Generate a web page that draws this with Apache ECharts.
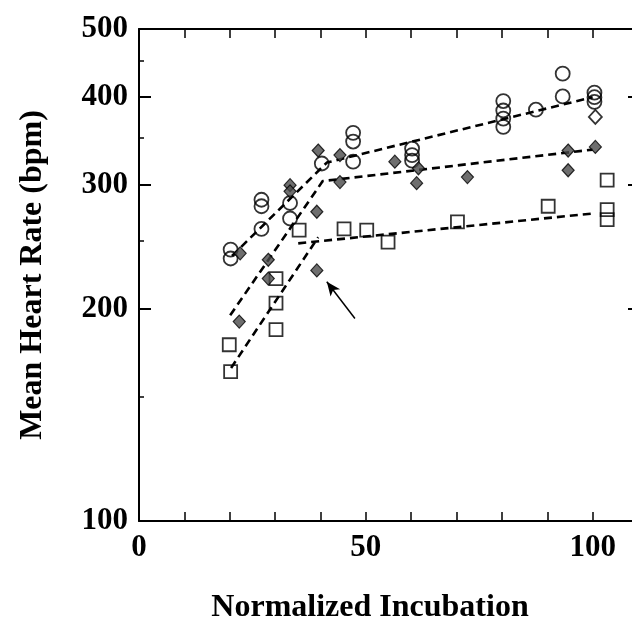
<!DOCTYPE html>
<html><head><meta charset="utf-8">
<script src="https://cdn.jsdelivr.net/npm/echarts@6/dist/echarts.min.js"></script>
<style>html,body{margin:0;padding:0;background:#fff}#c{width:632px;height:624px}</style>
</head><body><div id="c"></div>
<script>
// ---- data ----
const circleX = [20.2, 20.2, 27.0, 27.0, 27.0, 33.3, 33.3, 40.3, 47.2, 47.2, 47.2, 60.2, 60.2, 60.2, 80.3, 80.3, 80.3, 80.3, 87.5, 93.4, 93.4, 100.4, 100.4, 100.4];
const circleY = [243, 236, 286, 280, 260, 283, 269, 322, 356, 346, 324, 338, 331, 325, 395, 383, 373, 363, 384, 432, 401, 406, 400, 394];

const diamondX = [22.3, 22.1, 28.5, 28.5, 33.3, 33.3, 39.2, 39.2, 39.5, 44.3, 44.3, 56.4, 61.2, 61.6, 72.4, 94.6, 94.6, 100.6];
const diamondY = [240, 192, 235, 221, 300, 294, 275, 227, 336, 331, 303, 324, 302, 317, 308, 336, 315, 340];
const openDiamondX = [100.6];
const openDiamondY = [375];

const squareX = [19.9, 20.2, 30.2, 30.2, 30.2, 35.3, 45.2, 50.2, 54.9, 70.2, 90.2, 103.2, 103.2, 103.2];
const squareY = [178, 163, 187, 204, 221, 259, 260, 259, 249, 266, 280, 305, 277, 268];

const circleFitX = [20.5, 41.4, 100];
const circleFitY = [238, 323, 400];
const diamondFitX = [20.1, 40.5, 100];
const diamondFitY = [196, 304, 337];
const squareSteepX = [20.3, 39.5];
const squareSteepY = [165, 253];
const squareFlatX = [35.1, 100.1];
const squareFlatY = [248, 273.5];

const arrowFrom = [47.6, 194];
const arrowTo = [41.4, 218.7];

const xLabelValues = [0, 50, 100];
const yLabelValues = [100, 200, 300, 400, 500];
const yMajorTicks = [200, 300, 400];
const yMinorTicks = [150, 250, 350, 450];

// ---- chart ----
const pairs = (xs, ys) => xs.map((x, i) => [x, ys[i]]);
const FONT = '"Liberation Serif","Times New Roman",serif';
const txt = { fontFamily: FONT, fontWeight: 'bold', color: '#000' };
const axisLine = { show: true, lineStyle: { color: '#000', width: 2 } };

const dashed = { color: '#000', width: 2.6, type: [8, 5] };
function fitLine(xs, ys) {
  return {
    type: 'line', data: pairs(xs, ys), symbol: 'none', silent: true,
    lineStyle: dashed, z: 2
  };
}

const chart = echarts.init(document.getElementById('c'), null, { renderer: 'canvas' });
chart.setOption({
  animation: false,
  backgroundColor: '#fff',
  grid: { left: 139, top: 29, width: 499, height: 492, containLabel: false, outerBoundsMode: 'none' },
  xAxis: [
    {
      type: 'value', min: 0, max: 110, interval: 10, position: 'bottom',
      axisLine: axisLine,
      axisTick: { show: true, inside: true, length: 9, lineStyle: { color: '#000', width: 1.5 } },
      axisLabel: { customValues: xLabelValues, margin: 11, fontSize: 31, ...txt },
      splitLine: { show: false },
      name: 'Normalized Incubation', nameLocation: 'middle', nameGap: 71,
      nameTextStyle: { fontSize: 32, ...txt, padding: [0, 37, 0, 0] }
    },
    {
      type: 'value', min: 0, max: 110, interval: 10, position: 'top',
      axisLine: axisLine,
      axisTick: { show: true, inside: true, length: 9, lineStyle: { color: '#000', width: 1.5 } },
      axisLabel: { show: false }, splitLine: { show: false }
    }
  ],
  yAxis: [
    {
      type: 'log', logBase: 10, min: 100, max: 500, position: 'left',
      axisLine: axisLine,
      axisTick: { show: true, customValues: yMajorTicks, inside: true, length: 12, lineStyle: { color: '#000', width: 2 } },
      axisLabel: { customValues: yLabelValues, margin: 11, fontSize: 31, ...txt },
      splitLine: { show: false },
      name: 'Mean Heart Rate (bpm)', nameLocation: 'middle', nameGap: 90, nameRotate: 90,
      nameTextStyle: { fontSize: 32, ...txt }
    },
    {
      type: 'log', logBase: 10, min: 100, max: 500, position: 'left',
      axisLine: { show: false },
      axisTick: { show: true, customValues: yMinorTicks, inside: true, length: 5, lineStyle: { color: '#000', width: 1.5 } },
      axisLabel: { show: false }, splitLine: { show: false }
    },
    {
      type: 'log', logBase: 10, min: 100, max: 500, position: 'right',
      axisLine: axisLine,
      axisTick: { show: true, customValues: yMajorTicks, inside: true, length: 10, lineStyle: { color: '#000', width: 2 } },
      axisLabel: { show: false }, splitLine: { show: false }
    }
  ],
  series: [
    fitLine(circleFitX, circleFitY),
    fitLine(diamondFitX, diamondFitY),
    fitLine(squareSteepX, squareSteepY),
    fitLine(squareFlatX, squareFlatY),
    {
      type: 'line', data: [], symbol: 'none', silent: true,
      markLine: {
        silent: true, symbol: ['none', 'arrow'], symbolSize: [9, 14],
        label: { show: false },
        lineStyle: { color: '#000', width: 1.5, type: 'solid' },
        data: [[{ coord: arrowFrom }, { coord: arrowTo }]]
      }
    },
    {
      type: 'scatter', data: pairs(circleX, circleY), symbol: 'circle', symbolSize: 14,
      itemStyle: { color: 'transparent', borderColor: '#000', borderWidth: 1.8 }, z: 3
    },
    {
      type: 'scatter', data: pairs(squareX, squareY), symbol: 'rect', symbolSize: 13,
      itemStyle: { color: 'transparent', borderColor: '#000', borderWidth: 1.8 }, z: 3
    },
    {
      type: 'scatter', data: pairs(diamondX, diamondY), symbol: 'diamond', symbolSize: [12, 13],
      itemStyle: { color: '#4a4a4a', borderColor: '#000', borderWidth: 1.2 }, z: 4
    },
    {
      type: 'scatter', data: pairs(openDiamondX, openDiamondY), symbol: 'diamond', symbolSize: [13, 14],
      itemStyle: { color: '#fff', borderColor: '#000', borderWidth: 1.8 }, z: 4
    }
  ]
});
</script>
</body></html>
